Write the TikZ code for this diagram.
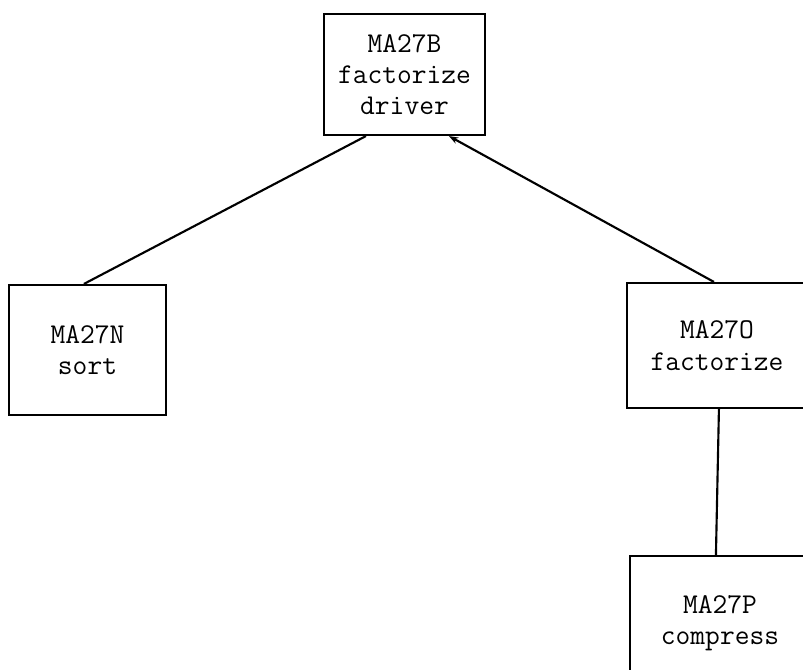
\documentclass[tikz,border=0pt]{standalone}
\usepackage{fontspec}
\usetikzlibrary{calc,arrows.meta}

\tikzset{every picture/.style={line width=0.75pt}}
\tikzset{
  routine/.style={draw, line width=1.6pt, inner sep=0pt, align=center,
    font=\ttfamily\fontsize{21.5}{23.5}\selectfont},
  callline/.style={line width=1.6pt}
}

\begin{document}
\begin{tikzpicture}[x=0.75pt,y=0.75pt,yscale=-1,xscale=1]
	\useasboundingbox (0,0) rectangle (803,670);
	\clip (0,0) rectangle (803,670);

	%boxes
	\node [routine, minimum width=120.75pt, minimum height=90.75pt] (ma27b) at (404.5,74.5) {MA27B\\factorize\\driver};
	\node [routine, minimum width=117.75pt, minimum height=97.5pt] (ma27n) at (87.5,350) {MA27N\\sort};
	\node [routine, minimum width=135pt, minimum height=93.75pt] (ma27o) at (717,345.5) {MA27O\\factorize};
	\node [routine, minimum width=135pt, minimum height=100.5pt] (ma27p) at (720,623) {MA27P\\compress};

	%calls
	\draw [callline] ($(ma27b.south west)+(43,0)$) -- ($(ma27n.north west)+(76,0)$) ;
	\draw [callline, -{Stealth[length=7pt,width=5pt]}] ($(ma27o.north west)+(88,0)$) -- ($(ma27b.south west)+(126,0)$) ;
	\draw [callline] ($(ma27o.south west)+(93,0)$) -- ($(ma27p.north west)+(87,0)$) ;

\end{tikzpicture}
\end{document}
